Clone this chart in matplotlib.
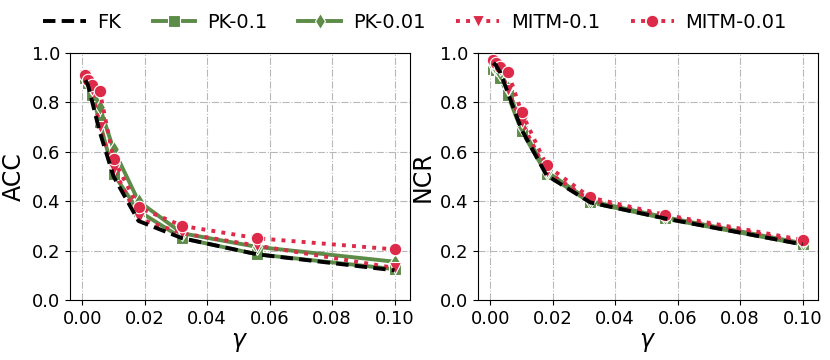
import matplotlib
matplotlib.use("Agg")
import matplotlib.pyplot as plt

gamma = [0.001, 0.0018, 0.0032, 0.0056, 0.01, 0.018, 0.032, 0.056, 0.1]
labels = ["FK", "PK-0.1", "PK-0.01", "MITM-0.1", "MITM-0.01"]

acc_fk = [0.89, 0.87, 0.80, 0.68, 0.50, 0.32, 0.25, 0.185, 0.12]
acc_pk01 = [0.90, 0.88, 0.83, 0.72, 0.51, 0.36, 0.25, 0.185, 0.125]
acc_pk001 = [0.90, 0.88, 0.86, 0.78, 0.61, 0.40, 0.27, 0.215, 0.155]
acc_mitm01 = [0.91, 0.88, 0.85, 0.70, 0.53, 0.33, 0.27, 0.22, 0.13]
acc_mitm001 = [0.91, 0.89, 0.87, 0.845, 0.57, 0.375, 0.30, 0.25, 0.205]

ncr_fk = [0.96, 0.95, 0.92, 0.84, 0.69, 0.505, 0.395, 0.33, 0.225]
ncr_pk01 = [0.935, 0.93, 0.90, 0.83, 0.685, 0.51, 0.395, 0.33, 0.225]
ncr_pk001 = [0.95, 0.94, 0.92, 0.86, 0.70, 0.52, 0.40, 0.335, 0.23]
ncr_mitm01 = [0.96, 0.95, 0.93, 0.85, 0.72, 0.52, 0.405, 0.34, 0.235]
ncr_mitm001 = [0.97, 0.96, 0.945, 0.925, 0.76, 0.545, 0.415, 0.345, 0.243]

green = "#5d8c48"
red = "#dc2a48"
styles = [
    dict(color="black", linestyle=(0, (3.2, 1.6)), marker=None, markersize=0, z=5),
    dict(color=green, linestyle="-", marker="s", markersize=8, z=2),
    dict(color=green, linestyle="-", marker="d", markersize=8, z=2),
    dict(color=red, linestyle=(0, (1, 1.6)), marker="v", markersize=9, z=3),
    dict(color=red, linestyle=(0, (1, 1.6)), marker="o", markersize=9, z=3),
]

fig = plt.figure(figsize=(8.3, 3.6), dpi=100)
ax1 = fig.add_axes([70 / 830, 1 - 300 / 360, 340 / 830, 247 / 360])
ax2 = fig.add_axes([478 / 830, 1 - 300 / 360, 340 / 830, 247 / 360])

handles = []
for ax, series, ylab in [
    (ax1, [acc_fk, acc_pk01, acc_pk001, acc_mitm01, acc_mitm001], "ACC"),
    (ax2, [ncr_fk, ncr_pk01, ncr_pk001, ncr_mitm01, ncr_mitm001], "NCR"),
]:
    hs = []
    for vals, lab, st in zip(series, labels, styles):
        h, = ax.plot(gamma, vals, label=lab, linewidth=2.8,
                     markeredgecolor="white", markeredgewidth=0.8,
                     color=st["color"], linestyle=st["linestyle"],
                     marker=st["marker"], markersize=st["markersize"],
                     zorder=st["z"])
        hs.append(h)
    handles = hs
    ax.set_ylim(0, 1.0)
    ax.set_xticks([0.0, 0.02, 0.04, 0.06, 0.08, 0.10])
    ax.set_xticklabels(["0.00", "0.02", "0.04", "0.06", "0.08", "0.10"])
    ax.set_yticks([0.0, 0.2, 0.4, 0.6, 0.8, 1.0])
    ax.tick_params(labelsize=13)
    ax.grid(True, linestyle="-.", color="#b8b8b8", linewidth=0.8)
    ax.set_axisbelow(True)
    ax.set_ylabel(ylab, fontsize=17)
    ax.set_xlabel(r"$\gamma$", fontsize=17, labelpad=2)

fig.legend(handles, labels, loc="upper center", ncol=5, frameon=False,
           fontsize=14, bbox_to_anchor=(0.5, 1.012), handlelength=2.2,
           columnspacing=1.6, handletextpad=0.6)

fig.savefig("out.png", dpi=100)
